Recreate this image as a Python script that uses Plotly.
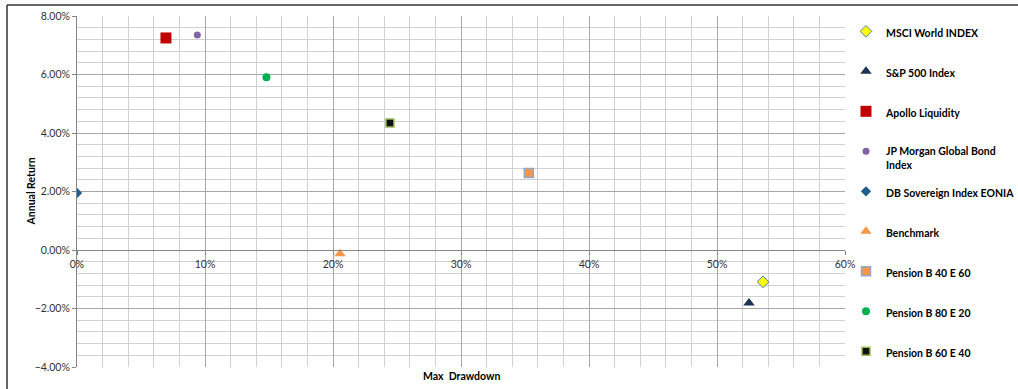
import plotly.graph_objects as go

names = ["MSCI World INDEX", "S&P 500 Index", "Apollo Liquidity",
         "JP Morgan Global Bond<br>Index", "DB Sovereign Index EONIA", "Benchmark",
         "Pension B 40 E 60", "Pension B 80 E 20", "Pension B 60 E 40"]
max_drawdown = [0.536, 0.525, 0.0695, 0.094, 0.0, 0.2055, 0.353, 0.148, 0.2445]
annual_return = [-0.0109, -0.0181, 0.0725, 0.0735, 0.0195, -0.0013, 0.0263, 0.0591, 0.0434]

symbols = ["diamond", "triangle-up", "square", "circle", "diamond", "triangle-up",
           "square", "circle", "square"]
fills = ["#ffff00", "#1f3254", "#c00000", "#8064a2", "#1f5f8f", "#f79646",
         "#f79646", "#00b050", "#111111"]
borders = ["#4f81bd", "#1f3254", "#c00000", "#8064a2", "#1f5f8f", "#f79646",
           "#95a7c5", "#00b050", "#9bbb59"]
sizes = [9, 10, 11, 7, 8, 10, 9, 8, 8]
bw = [1, 0, 0, 0, 0, 0, 1.5, 0, 1.5]
legend_of = ["legend", "legend", "legend", "legend",
             "legend2", "legend2", "legend2", "legend2", "legend2"]

fig = go.Figure()
for i, n in enumerate(names):
    fig.add_trace(go.Scatter(
        x=[max_drawdown[i]], y=[annual_return[i]], mode="markers", name=n,
        legendgroup=f"g{i}", legend=legend_of[i],
        marker=dict(symbol=symbols[i], color=fills[i], size=sizes[i],
                    line=dict(color=borders[i], width=bw[i]))))

FONT = "Lato, Carlito, Calibri, sans-serif"
L, R, T, B = 77, 845, 16, 367
W, H = 1018, 389
pw, ph = R - L, B - T

def px_x(p):
    return (p - L) / pw

def px_y(p):
    return (B - p) / ph

leg_common = dict(xanchor="left", yanchor="top",
                  font=dict(family=FONT, size=10.5, color="#000000", weight="bold"),
                  tracegroupgap=21, valign="top", itemwidth=30,
                  bgcolor="rgba(0,0,0,0)")

fig.update_layout(
    width=W, height=H,
    margin=dict(l=L, r=W - R, t=T, b=H - B, autoexpand=False),
    paper_bgcolor="white", plot_bgcolor="white",
    font=dict(family=FONT, size=10.5, color="#333333"),
    showlegend=True,
    legend=dict(x=px_x(846), y=px_y(18), **leg_common),
    legend2=dict(x=px_x(846), y=px_y(178), **leg_common),
    xaxis=dict(range=[0, 0.6], dtick=0.1, tickformat=".0%",
               showgrid=True, gridcolor="#a6a6a6", gridwidth=1,
               minor=dict(dtick=0.02, showgrid=True, gridcolor="#d0d0d0", gridwidth=1),
               anchor="free", position=1/3,
               showline=True, linecolor="#868686", linewidth=1,
               ticks="outside", ticklen=4, tickcolor="#868686",
               tickfont=dict(family=FONT, size=10.5, color="#333333"),
               zeroline=False),
    yaxis=dict(range=[-0.04, 0.08], dtick=0.02, tickformat=".2%",
               showgrid=True, gridcolor="#a6a6a6", gridwidth=1,
               minor=dict(dtick=0.004, showgrid=True, gridcolor="#d0d0d0", gridwidth=1),
               showline=True, linecolor="#868686", linewidth=1,
               ticks="outside", ticklen=4, tickcolor="#868686",
               tickfont=dict(family=FONT, size=10.5, color="#333333"),
               zeroline=False),
    annotations=[
        dict(text="Annual Return", textangle=-90, xref="paper", yref="paper",
             x=px_x(30), y=0.5, xanchor="center", yanchor="middle", showarrow=False,
             font=dict(family=FONT, size=10.5, color="#000000", weight="bold")),
        dict(text="Max  Drawdown", xref="paper", yref="paper",
             x=0.5, y=px_y(376), xanchor="center", yanchor="middle", showarrow=False,
             font=dict(family=FONT, size=10.5, color="#000000", weight="bold")),
    ],
    shapes=[
        dict(type="line", xref="paper", yref="paper", x0=px_x(7), x1=px_x(1020),
             y0=px_y(5), y1=px_y(5), line=dict(color="#333333", width=1.5)),
        dict(type="line", xref="paper", yref="paper", x0=px_x(7), x1=px_x(7),
             y0=px_y(5), y1=px_y(395), line=dict(color="#333333", width=1.5)),
    ],
)

fig.write_html("out.html")
